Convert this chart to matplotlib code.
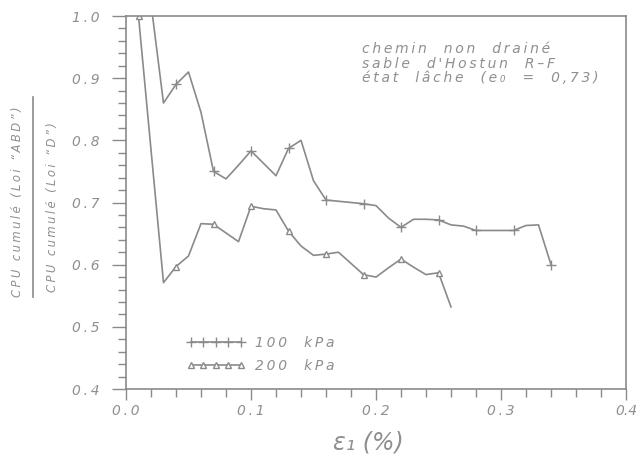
import matplotlib
matplotlib.use("Agg")
import matplotlib.pyplot as plt
from matplotlib.lines import Line2D

# ---- data ----
eps_100 = [0.01, 0.02, 0.03, 0.04, 0.05, 0.06, 0.07, 0.08, 0.09, 0.10,
           0.11, 0.12, 0.13, 0.14, 0.15, 0.16, 0.17, 0.18, 0.19, 0.20,
           0.21, 0.22, 0.23, 0.24, 0.25, 0.26, 0.27, 0.28, 0.29, 0.30,
           0.31, 0.32, 0.33, 0.34]
ratio_100 = [1.10, 1.02, 0.860, 0.890, 0.910, 0.845, 0.750, 0.738, 0.760, 0.783,
             0.763, 0.743, 0.787, 0.800, 0.735, 0.704, 0.702, 0.700, 0.698, 0.695,
             0.675, 0.660, 0.673, 0.673, 0.672, 0.664, 0.662, 0.655, 0.655, 0.655,
             0.655, 0.663, 0.664, 0.600]
eps_200 = [0.01, 0.02, 0.03, 0.04, 0.05, 0.06, 0.07, 0.08, 0.09, 0.10,
           0.11, 0.12, 0.13, 0.14, 0.15, 0.16, 0.17, 0.18, 0.19, 0.20,
           0.21, 0.22, 0.23, 0.24, 0.25, 0.26]
ratio_200 = [1.000, 0.785, 0.571, 0.597, 0.614, 0.666, 0.665, 0.651, 0.637, 0.694,
             0.690, 0.688, 0.654, 0.630, 0.615, 0.617, 0.620, 0.602, 0.584, 0.580,
             0.595, 0.609, 0.596, 0.584, 0.587, 0.532]
labels = ["100  kPa", "200  kPa"]
xticks = [0.0, 0.1, 0.2, 0.3, 0.4]
yticks = [0.4, 0.5, 0.6, 0.7, 0.8, 0.9, 1.0]
note = ["chemin  non  drainé", "sable  d'Hostun  R\u2013F", "état  lâche  (e\u2080  =  0,73)"]
ylab_num = "CPU cumulé (Loi \u201cABD\u201d)"
ylab_den = "CPU cumulé (Loi \u201cD\u201d)"

GRAY = "#8a8a8a"
TXT = "#8f8f8f"
TS = "\u2009"


def sp(s):
    return TS.join(s)


fig = plt.figure(figsize=(6.38, 4.61), dpi=100)
ax = fig.add_axes([126 / 638, 1 - 389 / 461, 500 / 638, 373 / 461])

ax.plot(eps_100, ratio_100, color=GRAY, lw=1.2, marker="+", ms=6.5, mew=1.0,
        markevery=slice(0, None, 3), label=sp(labels[0]))
ax.plot(eps_200, ratio_200, color=GRAY, lw=1.2, marker="^", ms=5, mew=1.0,
        mfc="white", markevery=slice(0, None, 3), label=sp(labels[1]))

ax.set_xlim(0.0, 0.4)
ax.set_ylim(0.4, 1.0)
ax.set_xticks(xticks)
ax.set_yticks(yticks)
ax.set_xticks([i * 0.02 for i in range(21)], minor=True)
ax.set_yticks([0.4 + i * 0.02 for i in range(31)], minor=True)
xlabs = [sp(f"{v:.1f}") for v in xticks[:-1]] + [f"{xticks[-1]:.1f}"]
ax.set_xticklabels(xlabs, fontstyle="italic", fontsize=10, color=TXT)
ax.set_yticklabels([sp(f"{v:.1f}") for v in yticks], fontstyle="italic",
                   fontsize=10, color=TXT)
ax.tick_params(which="major", direction="out", length=9, width=1.0, color=GRAY)
ax.tick_params(axis="y", which="major", length=10, pad=9)
ax.tick_params(axis="x", which="major", length=8, pad=3)
ax.tick_params(which="minor", direction="out", length=5.5, width=1.0, color=GRAY)
for s in ax.spines.values():
    s.set_color(GRAY)
    s.set_linewidth(1.2)

ax.set_xlabel("\u03b5\u2081 (%)", fontsize=17, fontstyle="italic", color=TXT)
ax.xaxis.set_label_coords(0.485, -0.11)

ax.text(0.472, 0.93, "\n".join(sp(t) for t in note), transform=ax.transAxes,
        fontsize=10, fontstyle="italic", color=TXT, va="top", ha="left",
        linespacing=1.05)

leg = ax.legend(loc="upper left", bbox_to_anchor=(0.11, 0.157), numpoints=5,
                handlelength=4.2, frameon=False, fontsize=10,
                labelspacing=0.65, handletextpad=0.7, borderaxespad=0)
for t in leg.get_texts():
    t.set_color(TXT)
    t.set_fontstyle("italic")

# y-axis label as a fraction
fig.text(18 / 638, 1 - 202 / 461, sp(ylab_num), rotation=90,
         ha="center", va="center", fontsize=8.4, fontstyle="italic", color=TXT)
fig.text(53 / 638, 1 - 207 / 461, sp(ylab_den), rotation=90,
         ha="center", va="center", fontsize=8.4, fontstyle="italic", color=TXT)
fig.add_artist(Line2D([33 / 638, 33 / 638], [1 - 97 / 461, 1 - 297 / 461],
                      transform=fig.transFigure, color=GRAY, lw=1.2))

fig.savefig("out.png", dpi=100)
